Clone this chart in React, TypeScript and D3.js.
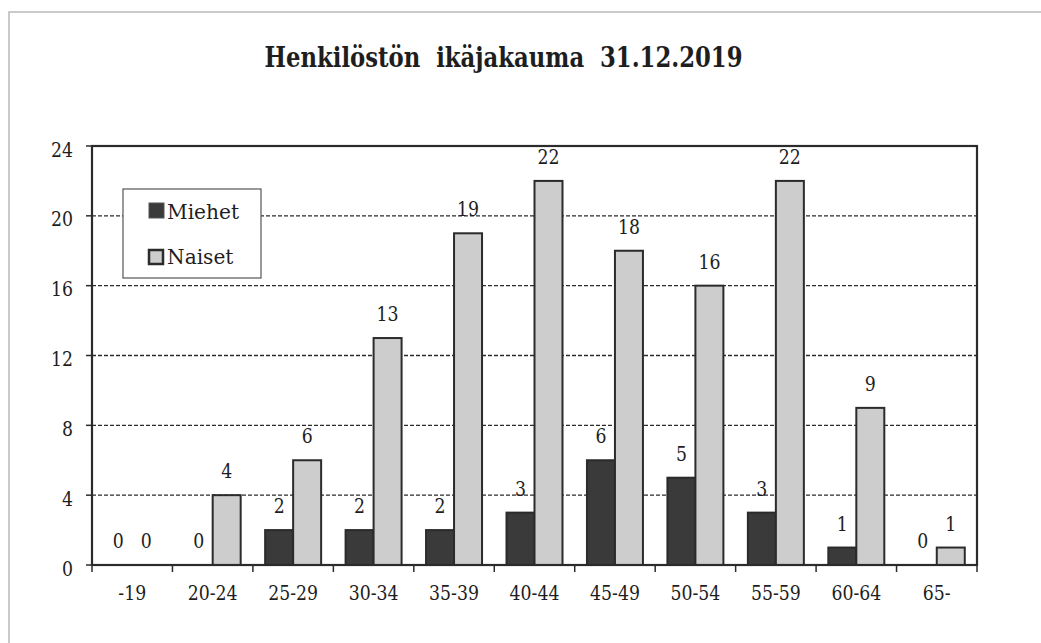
import React from "react";
import * as d3 from "d3";

const categories = ["-19", "20-24", "25-29", "30-34", "35-39", "40-44", "45-49", "50-54", "55-59", "60-64", "65-"];
const miehet = [0, 0, 2, 2, 2, 3, 6, 5, 3, 1, 0];
const naiset = [0, 4, 6, 13, 19, 22, 18, 16, 22, 9, 1];
const seriesNames = ["Miehet", "Naiset"];
const yTicks = [0, 4, 8, 12, 16, 20, 24];
const title = "Henkilöstön  ikäjakauma  31.12.2019";

const W = 1041;
const H = 643;
const plot = { left: 92, right: 977, top: 146, bottom: 565 };
const FONT = '"DejaVu Serif", "Liberation Serif", serif';
const colors = { Miehet: "#3a3a3a", Naiset: "#cdcdcd" };
const edge = "#2b2b2b";
const ink = "#1e1e1e";

type TProps = {
  x: number;
  y: number;
  size: number;
  sx?: number;
  anchor?: "start" | "middle" | "end";
  bold?: boolean;
  children: React.ReactNode;
};

function T({ x, y, size, sx = 0.866, anchor = "start", bold = false, children }: TProps) {
  return (
    <text
      transform={`translate(${x},${y}) scale(${sx},1)`}
      textAnchor={anchor}
      fontSize={size}
      fontWeight={bold ? "bold" : "normal"}
      fill={ink}
      style={{ fontFamily: FONT, whiteSpace: "pre" }}
    >
      {children}
    </text>
  );
}

export default function App() {
  const x = d3.scaleBand<string>().domain(categories).range([plot.left, plot.right]).padding(0);
  const xs = d3
    .scaleBand<string>()
    .domain(seriesNames)
    .range([0, x.bandwidth()])
    .paddingInner(0)
    .paddingOuter(0.437);
  const y = d3.scaleLinear().domain([0, 24]).range([plot.bottom, plot.top]);
  const series = [
    { name: "Miehet", values: miehet },
    { name: "Naiset", values: naiset },
  ];
  const boundaries = d3.range(categories.length + 1).map((i) => plot.left + i * x.step());

  return (
    <svg width={W} height={H} style={{ position: "absolute", left: 0, top: 0, background: "#fff", fontFamily: FONT }}>
      <rect x={0} y={0} width={W} height={H} fill="#fff" />
      <rect x={9} y={12} width={1200} height={900} fill="none" stroke="#bdbdbd" strokeWidth={1.6} />
      <T x={503.5} y={67} size={27} sx={0.843} anchor="middle" bold>
        {title}
      </T>

      {/* grid lines */}
      {yTicks
        .filter((t) => t > 0 && t < 24)
        .map((t) => (
          <line key={t} x1={plot.left} x2={plot.right} y1={y(t)} y2={y(t)} stroke="#2b2b2b" strokeWidth={1.4} strokeDasharray="4 2" />
        ))}

      {/* y ticks */}
      {yTicks.map((t) => (
        <g key={t}>
          <line x1={plot.left - 6} x2={plot.left} y1={y(t)} y2={y(t)} stroke={edge} strokeWidth={1.5} />
          <T x={73} y={y(t) + 10.5} size={20} anchor="end">
            {String(t)}
          </T>
        </g>
      ))}

      {/* x ticks */}
      {boundaries.map((bx, i) => (
        <line key={i} x1={bx} x2={bx} y1={plot.bottom} y2={plot.bottom + 7} stroke={edge} strokeWidth={1.5} />
      ))}
      {categories.map((c) => (
        <T key={c} x={(x(c) as number) + x.bandwidth() / 2} y={600} size={20} anchor="middle">
          {c}
        </T>
      ))}

      {/* legend */}
      <rect x={123} y={189} width={138} height={89} fill="#fff" stroke="#555" strokeWidth={1.2} />
      <rect x={149} y={203} width={15} height={15} fill={colors.Miehet} stroke="#555" strokeWidth={1} />
      <T x={167} y={219} size={21} sx={0.96}>Miehet</T>
      <rect x={149} y={250} width={14} height={14} fill={colors.Naiset} stroke={edge} strokeWidth={2.5} />
      <T x={167} y={264} size={21} sx={0.96}>Naiset</T>

      {/* bars */}
      {series.map((s) =>
        s.values.map((v, i) => {
          const bx = (x(categories[i]) as number) + (xs(s.name) as number);
          const bw = xs.bandwidth();
          return (
            <g key={s.name + i}>
              {v > 0 && (
                <rect
                  x={bx}
                  y={y(v)}
                  width={bw}
                  height={y(0) - y(v)}
                  fill={colors[s.name as "Miehet" | "Naiset"]}
                  stroke={edge}
                  strokeWidth={2}
                />
              )}
              <T x={bx + bw / 2} y={y(v) - 17} size={20} anchor="middle">
                {String(v)}
              </T>
            </g>
          );
        })
      )}

      {/* plot border */}
      <rect
        x={plot.left}
        y={plot.top}
        width={plot.right - plot.left}
        height={plot.bottom - plot.top}
        fill="none"
        stroke={edge}
        strokeWidth={2.2}
      />
    </svg>
  );
}
